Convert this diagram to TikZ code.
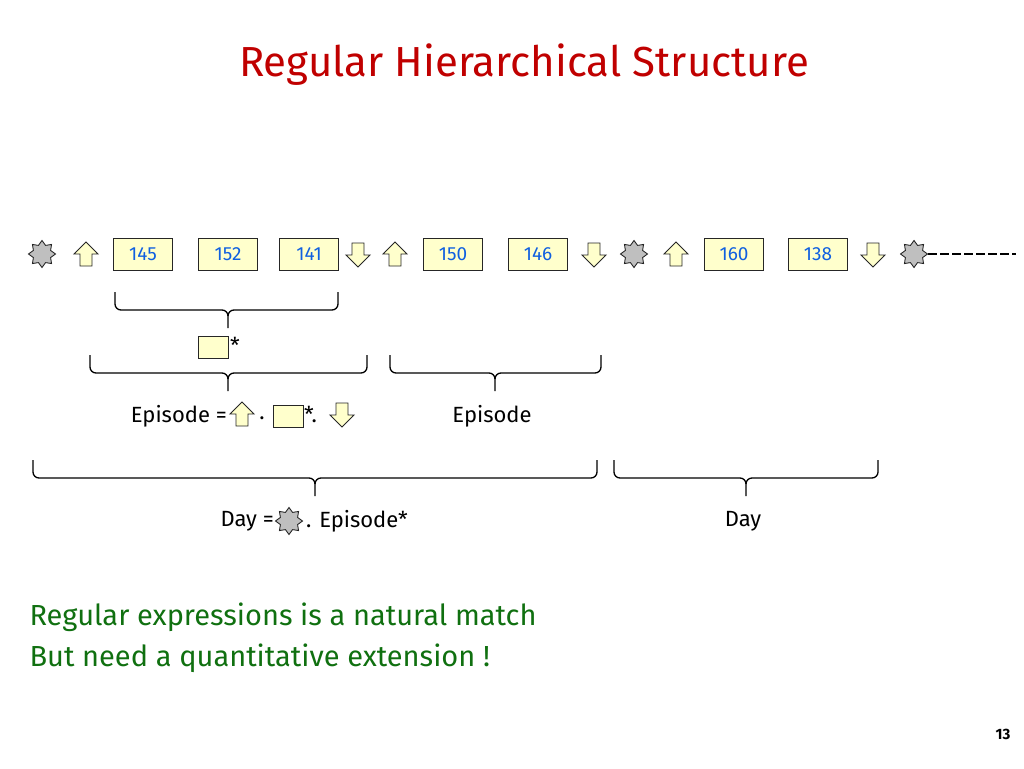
\documentclass[tikz,border=0pt]{standalone}
\usepackage{fontspec}
\setmainfont{Fira Sans}
\usetikzlibrary{shapes.geometric}
\definecolor{pale}{HTML}{FFFFCC}
\definecolor{numblue}{HTML}{1060E0}
\definecolor{titlered}{HTML}{C00000}
\definecolor{grn}{HTML}{107010}
\begin{document}
\begin{tikzpicture}[x=1pt,y=-1pt,
  numbox/.style={draw=black!85,line width=0.9pt,fill=pale,minimum width=59pt,minimum height=32pt,inner sep=0pt,font=\fontsize{19}{19}\selectfont,text=numblue},
  smallbox/.style={draw=black!85,line width=0.9pt,fill=pale,minimum width=30pt,minimum height=22pt,inner sep=0pt},
  starnode/.style={star,star points=8,star point ratio=1.45,draw=black!85,line width=0.9pt,fill=black!25,minimum size=27pt,inner sep=0pt},
  arr/.style={draw=black!85,line width=0.9pt,fill=pale},
  brace/.style={draw=black,line width=1.3pt,rounded corners=6pt},
  lbl/.style={font=\fontsize{22}{22}\selectfont,inner sep=0pt}]
\useasboundingbox (0,0) rectangle (1024,768);
\newcommand{\uparr}[3]{\draw[arr] (#1-12,#2) -- (#1,#2-12) -- (#1+12,#2) -- (#1+6,#2) -- (#1+6,#2+12) -- (#1-6,#2+12) -- (#1-6,#2) -- cycle; \coordinate (#3) at (#1,#2);}
\newcommand{\dnarr}[3]{\draw[arr] (#1-12,#2) -- (#1,#2+12) -- (#1+12,#2) -- (#1+6,#2) -- (#1+6,#2-12) -- (#1-6,#2-12) -- (#1-6,#2) -- cycle; \coordinate (#3) at (#1,#2);}
\newcommand{\mybrace}[5]{\draw[brace] (#1,#4) -- (#1,#5) -- (#3,#5) -- (#3,#5+18); \draw[brace] (#3,#5+6) -- (#3,#5) -- (#2,#5) -- (#2,#4);}
\node[font=\fontsize{42}{42}\selectfont,text=titlered] (title) at (524,65) {Regular Hierarchical Structure};
% top row
\node[starnode] (s1) at (42,254) {};
\uparr{86}{254}{u1}
\node[numbox] (b1) at (143,254) {145};
\node[numbox] (b2) at (228,254) {152};
\node[numbox] (b3) at (309,254) {141};
\dnarr{358}{255}{d1}
\uparr{395}{254}{u2}
\node[numbox] (b4) at (453,254) {150};
\node[numbox] (b5) at (538,254) {146};
\dnarr{594}{255}{d2}
\node[starnode] (s2) at (634,254) {};
\uparr{676}{254}{u3}
\node[numbox] (b6) at (734,254) {160};
\node[numbox] (b7) at (818,254) {138};
\dnarr{873}{255}{d3}
\node[starnode] (s3) at (914,254) {};
\coordinate (dend) at (1016,254);
\draw[line width=1.5pt,dash pattern=on 9pt off 3pt] (s3.east) -- (dend);
% braces
\mybrace{115}{338}{228}{292}{310}
\node[smallbox] (sb1) at (213,347) {};
\node[lbl,anchor=west] (st1) at (230,345) {*};
\mybrace{90}{367}{228}{355}{373}
\mybrace{390}{601}{495}{355}{373}
\node[lbl,anchor=east] (ep1) at (227,416) {Episode =};
\uparr{242}{414}{u4}
\node[lbl] (dot1) at (262,418) {.};
\node[smallbox] (sb2) at (288,416) {};
\node[lbl,anchor=west] (st2) at (304,414) {*.};
\dnarr{342}{415}{d4}
\node[lbl] (ep2) at (492,416) {Episode};
\mybrace{33}{597}{315}{460}{478}
\mybrace{614}{878}{746}{460}{478}
\node[lbl,anchor=east] (day1) at (274,521) {Day =};
\node[starnode] (s4) at (289,521) {};
\node[lbl,anchor=west] (day2) at (306,521) {. Episode*};
\node[lbl] (day3) at (743,521) {Day};
\node[font=\fontsize{29}{29}\selectfont,text=grn,anchor=west] (g1) at (26,617) {Regular expressions is a natural match};
\node[font=\fontsize{29}{29}\selectfont,text=grn,anchor=west] (g2) at (26,658) {But need a quantitative extension !};
\node[font=\bfseries\fontsize{15}{15}\selectfont] (pg) at (1003,734) {13};
\end{tikzpicture}
\end{document}
